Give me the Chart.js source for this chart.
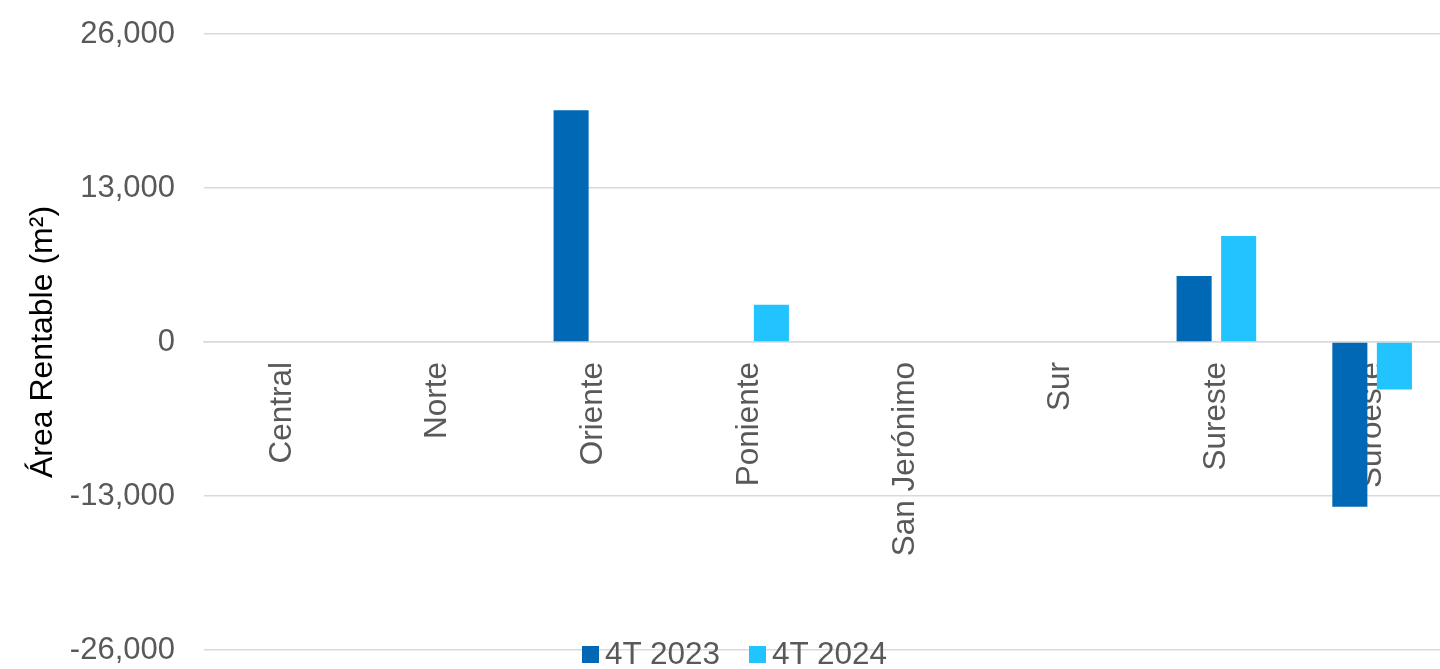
<!DOCTYPE html>
<html lang="es">
<head>
<meta charset="utf-8">
<title>Área Rentable por zona</title>
<script src="https://cdn.jsdelivr.net/npm/chart.js@4/dist/chart.umd.min.js"></script>
<style>
  html, body { margin: 0; padding: 0; background: #fff; overflow: hidden; }
  #wrap { position: relative; width: 1450px; height: 669px; }
  #legend {
    position: absolute; left: 582px; top: 635px; line-height: 36px;
    font-family: "Liberation Sans", Arial, sans-serif; font-size: 31.5px; color: #595959;
    display: flex; align-items: center; white-space: nowrap;
  }
  #legend span.item { display: inline-flex; align-items: center; margin-right: 29px; }
  #legend span.box { width: 17px; height: 17px; margin-right: 6px; margin-top: 3px; }
</style>
</head>
<body>
<div id="wrap">
  <canvas id="myChart" width="1450" height="669"></canvas>
  <div id="legend"></div>
</div>
<script>
// zonas y valores (m²)
const zonas = ['Central', 'Norte', 'Oriente', 'Poniente', 'San Jerónimo', 'Sur', 'Sureste', 'Suroeste']
const serie2023 = [0, 0, 19560, 0, 0, 0, 5570, -13900]
const serie2024 = [0, 0, 0, 3150, 0, 0, 8950, -4000]
const nombres = ['4T 2023', '4T 2024']
const colores = ['#0068b5', '#21c4ff']
const yTicks = [-26000, -13000, 0, 13000, 26000]

const fuente = '"Liberation Sans", Arial, sans-serif'
const gris = '#595959'

const ctx = document.querySelector('#myChart').getContext('2d')

let chart = new Chart(ctx, {
    type: 'bar',
    data: {
        labels: zonas,
        datasets: [
            { label: nombres[0], data: serie2023, backgroundColor: colores[0] },
            { label: nombres[1], data: serie2024, backgroundColor: colores[1] }
        ]
    },
    options: {
        responsive: false,
        animation: false,
        categoryPercentage: 0.572,
        barPercentage: 0.787,
        layout: { padding: { top: 34, bottom: 19, left: 0, right: 0 } },
        plugins: {
            legend: { display: false },
            tooltip: { enabled: false }
        },
        scales: {
            x: {
                // eje de categorías sobre la línea del cero, dibujado encima de las barras
                position: { y: 0 },
                z: 1,
                grid: { display: false, drawTicks: false },
                border: { color: '#d9d9d9', width: 1.5 },
                ticks: {
                    minRotation: 90,
                    maxRotation: 90,
                    autoSkip: false,
                    padding: 20,
                    color: gris,
                    font: { family: fuente, size: 31.5 }
                }
            },
            y: {
                min: -26000,
                max: 26000,
                afterFit(scale) { scale.width = 204 },
                afterBuildTicks(scale) { scale.ticks = yTicks.map(v => ({ value: v })) },
                // marcas invisibles para separar las etiquetas sin sumar relleno vertical
                grid: { color: '#d9d9d9', lineWidth: 1.5, drawTicks: true, tickLength: 29, tickColor: 'rgba(0,0,0,0)' },
                border: { display: false },
                ticks: {
                    padding: 0,
                    color: gris,
                    font: { family: fuente, size: 31 },
                    callback: v => v.toLocaleString('en-US')
                },
                title: {
                    display: true,
                    text: 'Área Rentable (m²)',
                    color: '#000',
                    padding: { top: 24, bottom: 0 },
                    font: { family: fuente, size: 32 }
                }
            }
        }
    }
})

// leyenda abajo, sobre la última línea de la cuadrícula
const legend = document.querySelector('#legend')
chart.data.datasets.forEach(ds => {
    const item = document.createElement('span')
    item.className = 'item'
    const box = document.createElement('span')
    box.className = 'box'
    box.style.background = ds.backgroundColor
    item.appendChild(box)
    item.appendChild(document.createTextNode(ds.label))
    legend.appendChild(item)
})
</script>
</body>
</html>
